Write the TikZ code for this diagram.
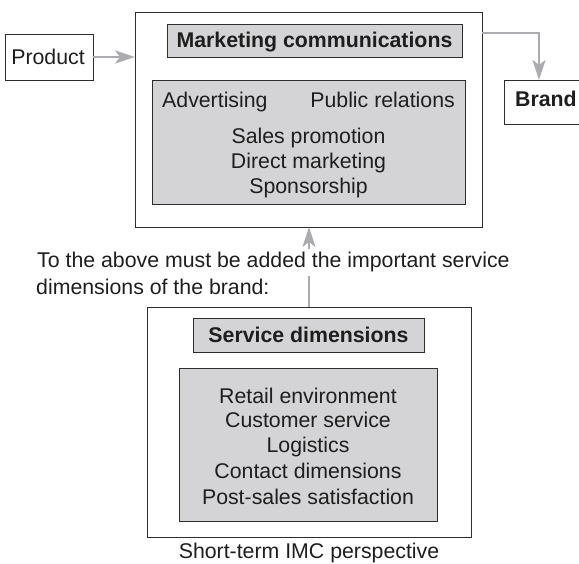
\documentclass[tikz,border=0pt]{standalone}
\usepackage{fontspec}
\setmainfont{Liberation Sans}
\usetikzlibrary{arrows.meta}
\definecolor{boxgray}{RGB}{212,212,214}
\definecolor{arrgray}{RGB}{172,172,176}
\definecolor{edgec}{RGB}{45,45,45}
\definecolor{txtc}{RGB}{30,30,30}
\tikzset{
  frame/.style={draw=edgec, line width=0.9pt, inner sep=0pt, outer sep=0pt, fill=white},
  grayframe/.style={frame, fill=boxgray},
  txt/.style={font=\fontsize{21.3}{25}\selectfont, text=txtc, inner sep=0pt, anchor=base},
  btxt/.style={txt, font=\fontsize{21.3}{25}\selectfont\bfseries},
  arr/.style={draw=arrgray, line width=2.5pt, -{Stealth[length=20pt,width=13pt,inset=5pt]}},
}
\begin{document}
\begin{tikzpicture}[x=1pt,y=-1pt]
\useasboundingbox (0,0) rectangle (579,564);
% top group
\node[frame, minimum width=347, minimum height=215] (outer) at (308.5,119.5) {};
\node[grayframe, minimum width=295, minimum height=33] (mchead) at (314.5,40.5) {};
\node[grayframe, minimum width=313, minimum height=124] (mcin) at (308.5,142) {};
\node[btxt] (mct) at (mchead.center |- 0,48) {Marketing communications};
\node[txt, anchor=base west] (adv) at (162,108) {Advertising};
\node[txt, anchor=base east] (pr) at (455,108) {Public relations};
\node[txt] (sp) at (308.5,144) {Sales promotion};
\node[txt] (dm) at (308.5,169) {Direct marketing};
\node[txt] (spo) at (308.5,194) {Sponsorship};
% product and brand
\node[frame, minimum width=88, minimum height=46] (prod) at (49,57) {};
\node[txt] (prodt) at (48,65) {Product};
\node[frame, minimum width=80, minimum height=44] (brand) at (544,102) {};
\node[btxt, anchor=base west] (brandt) at (515,107) {Brand};
% bottom group
\node[frame, minimum width=324, minimum height=230] (souter) at (309,422) {};
\node[grayframe, minimum width=231, minimum height=34] (sdhead) at (308.5,335) {};
\node[grayframe, minimum width=258, minimum height=153] (sdin) at (308,444.5) {};
\node[btxt] (sdt) at (sdhead.center |- 0,343) {Service dimensions};
\node[txt] (s1) at (308,403) {Retail environment};
\node[txt] (s2) at (308,428) {Customer service};
\node[txt] (s3) at (308,453) {Logistics};
\node[txt] (s4) at (308,478) {Contact dimensions};
\node[txt] (s5) at (308,504) {Post-sales satisfaction};
\node[txt] (cap) at (309,558) {Short-term IMC perspective};
% connectors
\draw[arr] (prod.east) -- (prod.east -| outer.west);
\coordinate (bk) at (539,33);
\draw[arr] (outer.east |- bk) -- (bk) -- (bk |- brand.north);
\draw[arr] (souter.north) -- (souter.north |- outer.south);
% text across the arrow
\node[txt, anchor=base west, fill=white, inner xsep=1pt, inner ysep=4pt] (note1) at (36,268) {To the above must be added the important service};
\node[txt, anchor=base west] (note2) at (36,295) {dimensions of the brand:};
\end{tikzpicture}
\end{document}
